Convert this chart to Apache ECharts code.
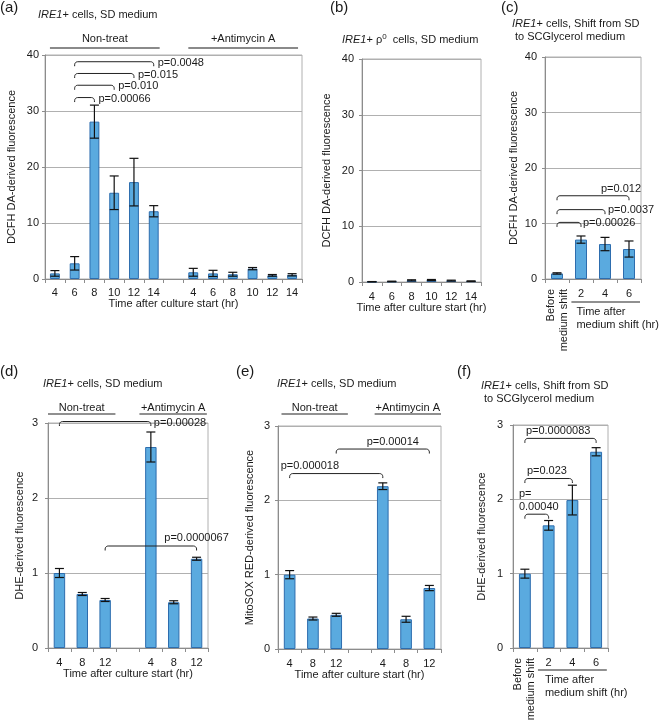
<!DOCTYPE html>
<html><head><meta charset="utf-8">
<script src="https://cdn.jsdelivr.net/npm/echarts@6/dist/echarts.min.js"></script>
<style>html,body{margin:0;padding:0;background:#fff}#c{width:660px;height:722px}</style>
</head><body><div id="c"></div>
<script>
// ---------------- data ----------------
const dcfhTicks = [0, 10, 20, 30, 40];
const dheTicks = [0, 1, 2, 3];

const aCats = ['4','6','8','10','12','14','','4','6','8','10','12','14'];
const aVals = [1.0, 2.8, 28.1, 15.4, 17.3, 12.1, null, 1.2, 1.0, 0.85, 1.85, 0.65, 0.75];
const aErrs = [0.5, 1.2, 2.95, 3.0, 4.25, 1.0, null, 0.7, 0.55, 0.35, 0.2, 0.15, 0.2];
const aBrackets = [[1, 2, 32.4, 'p=0.00066'], [1, 3, 34.6, 'p=0.010'], [1, 4, 36.7, 'p=0.015'], [1, 5, 38.8, 'p=0.0048']];
const aGroups = [['Non-treat', 0, 5], ['+Antimycin A', 7, 12]];

const bCats = ['4','6','8','10','12','14'];
const bVals = [0.05, 0.1, 0.3, 0.35, 0.25, 0.15];
const bErrs = [0.03, 0.05, 0.1, 0.1, 0.08, 0.05];

const cCats = ['Before\nmedium shift', '2', '4', '6'];
const cVals = [1.0, 7.1, 6.3, 5.4];
const cErrs = [0.12, 0.65, 1.2, 1.45];
const cBrackets = [[0, 1, 10.2, 'p=0.00026'], [0, 2, 12.5, 'p=0.0037'], [0, 3, 15.0, 'p=0.012']];

const dCats = ['4','8','12','','4','8','12'];
const dVals = [1.0, 0.72, 0.64, null, 2.68, 0.61, 1.19];
const dErrs = [0.06, 0.02, 0.02, null, 0.2, 0.02, 0.02];
const dBrackets = [[0, 4, 3.02, 'p=0.00028'], [2, 6, 1.36, 'p=0.0000067']];
const dGroups = [['Non-treat', 0, 2], ['+Antimycin A', 4, 6]];

const eCats = ['4','8','12','','4','8','12'];
const eVals = [1.0, 0.41, 0.46, null, 2.19, 0.40, 0.82];
const eErrs = [0.055, 0.02, 0.02, null, 0.045, 0.04, 0.035];
const eBrackets = [[0, 4, 2.36, 'p=0.000018'], [2, 6, 2.69, 'p=0.00014']];
const eGroups = [['Non-treat', 0, 2], ['+Antimycin A', 4, 6]];

const fCats = ['Before\nmedium shift', '2', '4', '6'];
const fVals = [1.0, 1.65, 1.99, 2.64];
const fErrs = [0.06, 0.065, 0.2, 0.055];
const fBrackets = [[0, 1, 1.80, 'p=\n0.00040'], [0, 2, 2.28, 'p=0.023'], [0, 3, 2.82, 'p=0.0000083']];

const cultureName = 'Time after culture start (hr)';
const shiftName = 'Time after\nmedium shift (hr)';
const dcfhName = 'DCFH DA-derived fluorescence';
const dheName = 'DHE-derived fluorescence';
const mitoName = 'MitoSOX RED-derived fluorescence';

// ---------------- style / layout ----------------
const FONT = '"Liberation Sans", Arial, Helvetica, sans-serif';
const TXT = '#1a1a1a';
const BAR_FILL = '#5AAADF', BAR_EDGE = '#2D6DAE';
const AXIS = '#8c8c8c', GRIDC = '#b0b0b0';

const grpA = {padL: 0.25, padR: 0.3, lineDy: -7, textDy: -16, color: '#8a8a8a', width: 2};
const grpD = {padL: 0.5, padR: 0.45, lineDy: -9, textDy: -15.5, color: '#222', width: 1.2};
const grpE = {padL: 0.35, padR: 0.5, lineDy: -12, textDy: -18, color: '#222', width: 1.2};

const panels = [
  {grid: {left: 45, top: 55, width: 257, height: 224}, cats: aCats, vals: aVals, errs: aErrs, ticks: dcfhTicks,
   yName: dcfhName, yNameGap: 28, yLabelMargin: 6, xName: cultureName, xNameGap: 19, xLabelMargin: 8,
   brackets: aBrackets, bLab: [{at: 'end', dx: 4, dy: 1, align: 'left'}, {at: 'end', dx: 4, dy: 1, align: 'left'}, {at: 'end', dx: 4, dy: 1, align: 'left'}, {at: 'end', dx: 4, dy: 1, align: 'left'}],
   groups: aGroups, grp: grpA},
  {grid: {left: 362, top: 59, width: 119, height: 223}, cats: bCats, vals: bVals, errs: bErrs, ticks: dcfhTicks,
   yName: dcfhName, yNameGap: 30, yLabelMargin: 8, xName: cultureName, xNameGap: 16.5, xLabelMargin: 9},
  {grid: {left: 545, top: 57, width: 96, height: 222}, cats: cCats, vals: cVals, errs: cErrs, ticks: dcfhTicks,
   yName: dcfhName, yNameGap: 26, yLabelMargin: 8, xLabelMargin: 9,
   brackets: cBrackets, bLab: [{at: 'end', dx: 2, dy: 0.5, align: 'left'}, {at: 'end', dx: 3, dy: 0, align: 'left'}, {at: 'end', dx: 12, dy: -7, align: 'right'}],
   shift: {name: shiftName, rotDy: 10, lineDy: 23, from: 0.6, to: 3.46, textDx: 5, textTop: 26}},
  {grid: {left: 48, top: 423, width: 160, height: 225}, cats: dCats, vals: dVals, errs: dErrs, ticks: dheTicks,
   yName: dheName, yNameGap: 22.5, yLabelMargin: 10, xName: cultureName, xNameGap: 19.5, xLabelMargin: 9,
   brackets: dBrackets, bLab: [{at: 'end', dx: 3, dy: 1, align: 'left'}, {at: 'end', dx: 0, dy: -8, align: 'center'}],
   groups: dGroups, grp: grpD},
  {grid: {left: 278, top: 426, width: 163, height: 223}, cats: eCats, vals: eVals, errs: eErrs, ticks: dheTicks,
   yName: mitoName, yNameGap: 22.5, yLabelMargin: 8, xName: cultureName, xNameGap: 18.5, xLabelMargin: 9,
   brackets: eBrackets, bLab: [{at: 'start', dx: -9, dy: -8, align: 'left'}, {at: 'mid', dx: 10, dy: -7, align: 'center'}],
   groups: eGroups, grp: grpE},
  {grid: {left: 513, top: 425, width: 95, height: 223}, cats: fCats, vals: fVals, errs: fErrs, ticks: dheTicks,
   yName: dheName, yNameGap: 25.5, yLabelMargin: 10, xLabelMargin: 9,
   brackets: fBrackets, bLab: [{at: 'start', dx: -6, dy: -13.5, align: 'left'}, {at: 'start', dx: 2, dy: -8, align: 'left'}, {at: 'start', dx: 1, dy: -7, align: 'left'}],
   shift: {name: shiftName, rotDy: 10, lineDy: 22, from: 0.55, to: 3.45, textDx: 7, textTop: 25}}
];

function textEl(x, y, text, align, valign, extra) {
  return Object.assign({
    type: 'text', x: x, y: y,
    style: {text: text, font: '11px ' + FONT, fill: TXT, align: align, verticalAlign: valign,
            textAlign: align, textVerticalAlign: valign, lineHeight: 13}
  }, extra || {});
}

function errSeries(idx, L) {
  const data = [];
  L.vals.forEach((v, i) => { if (v != null) data.push([i, v, L.errs[i]]); });
  return {
    type: 'custom', xAxisIndex: idx, yAxisIndex: idx, z: 5, clip: false, silent: true, data: data,
    renderItem(params, api) {
      const x = api.value(0), v = api.value(1), e = api.value(2);
      const t = api.coord([x, v + e]), b = api.coord([x, v - e]);
      const w = 4.5, st = {stroke: '#111', lineWidth: 1.2};
      return {type: 'group', children: [
        {type: 'line', shape: {x1: t[0], y1: t[1], x2: b[0], y2: b[1]}, style: st},
        {type: 'line', shape: {x1: t[0] - w, y1: t[1], x2: t[0] + w, y2: t[1]}, style: st},
        {type: 'line', shape: {x1: b[0] - w, y1: b[1], x2: b[0] + w, y2: b[1]}, style: st}
      ]};
    }
  };
}

function bracketPts(x1, x2, y, h, r) {
  const pts = [[x1, y + h]], n = 5;
  for (let k = 0; k <= n; k++) { const t = Math.PI + (Math.PI / 2) * k / n; pts.push([x1 + r + r * Math.cos(t), y + r + r * Math.sin(t)]); }
  for (let k = 0; k <= n; k++) { const t = 1.5 * Math.PI + (Math.PI / 2) * k / n; pts.push([x2 - r + r * Math.cos(t), y + r + r * Math.sin(t)]); }
  pts.push([x2, y + h]);
  return pts;
}

function bracketSeries(idx, L) {
  return {
    type: 'custom', xAxisIndex: idx, yAxisIndex: idx, z: 6, clip: false, silent: true,
    data: L.brackets.map(b => [b[0], b[2], b[1]]),
    renderItem(params, api) {
      const b = L.brackets[params.dataIndex];
      const spec = L.bLab[params.dataIndex];
      const p1 = api.coord([b[0], b[2]]), p2 = api.coord([b[1], b[2]]);
      const y = p1[1];
      const ax = spec.at === 'start' ? p1[0] : spec.at === 'end' ? p2[0] : (p1[0] + p2[0]) / 2;
      return {type: 'group', children: [
        {type: 'polyline', shape: {points: bracketPts(p1[0], p2[0], y, 4.5, 3)}, style: {stroke: '#222', lineWidth: 1, fill: null}},
        textEl(ax + spec.dx, y + spec.dy, b[3], spec.align, 'middle')
      ]};
    }
  };
}

function extrasSeries(idx, L) {
  return {
    type: 'custom', xAxisIndex: idx, yAxisIndex: idx, z: 6, clip: false, silent: true,
    data: [[0, 0]],
    renderItem(params, api) {
      const c0 = api.coord([0, 0]), c1 = api.coord([1, 0]);
      const slot = c1[0] - c0[0];
      const X = f => c0[0] + f * slot;
      const axisY = c0[1];
      const topY = api.coord([0, L.ticks[L.ticks.length - 1]])[1];
      const kids = [];
      if (L.groups) {
        const g = L.grp;
        L.groups.forEach(gr => {
          const xa = X(gr[1] - g.padL), xb = X(gr[2] + g.padR);
          kids.push({type: 'line', shape: {x1: xa, y1: topY + g.lineDy, x2: xb, y2: topY + g.lineDy}, style: {stroke: g.color, lineWidth: g.width}});
          kids.push(textEl((xa + xb) / 2, topY + g.textDy, gr[0], 'center', 'middle'));
        });
      }
      if (L.shift) {
        const s = L.shift;
        kids.push(textEl(X(0), axisY + s.rotDy, L.cats[0], 'right', 'middle', {rotation: Math.PI / 2}));
        kids.push({type: 'line', shape: {x1: X(s.from), y1: axisY + s.lineDy, x2: X(s.to), y2: axisY + s.lineDy}, style: {stroke: '#222', lineWidth: 1.2}});
        const t = textEl(X(s.from) + s.textDx, axisY + s.textTop, s.name, 'left', 'top');
        t.style.lineHeight = 13.5;
        kids.push(t);
      }
      return {type: 'group', children: kids};
    }
  };
}

const grids = [], xAxes = [], yAxes = [], series = [];
panels.forEach((L, idx) => {
  grids.push(Object.assign({show: true, borderColor: GRIDC, borderWidth: 1, backgroundColor: 'transparent', containLabel: false}, L.grid));
  xAxes.push({
    type: 'category', gridIndex: idx, data: L.cats,
    name: L.xName || '', nameLocation: 'middle', nameGap: L.xNameGap || 0,
    nameTextStyle: {fontSize: 11, fontFamily: FONT, color: TXT},
    axisLine: {lineStyle: {color: AXIS, width: 1}},
    axisTick: {show: true, length: 4, lineStyle: {color: AXIS}},
    axisLabel: {interval: 0, fontSize: 11, fontFamily: FONT, color: TXT, margin: L.xLabelMargin,
      formatter: (v, i) => (L.shift && i === 0) ? '' : v},
    splitLine: {show: false}
  });
  const tk = L.ticks;
  yAxes.push({
    type: 'value', gridIndex: idx, min: tk[0], max: tk[tk.length - 1], interval: tk[1] - tk[0],
    name: L.yName, nameLocation: 'middle', nameGap: L.yNameGap,
    nameTextStyle: {fontSize: 11, fontFamily: FONT, color: TXT},
    axisLine: {show: true, lineStyle: {color: AXIS, width: 1}},
    axisTick: {show: true, length: 3, lineStyle: {color: AXIS}},
    axisLabel: {fontSize: 11, fontFamily: FONT, color: TXT, margin: L.yLabelMargin},
    splitLine: {show: true, lineStyle: {color: GRIDC, width: 1}}
  });
  series.push({type: 'bar', xAxisIndex: idx, yAxisIndex: idx, data: L.vals.map(v => v == null ? '-' : v),
    barWidth: '50%', silent: true, z: 2,
    itemStyle: {color: BAR_FILL, borderColor: BAR_EDGE, borderWidth: 1}});
  series.push(errSeries(idx, L));
  if (L.brackets) series.push(bracketSeries(idx, L));
  series.push(extrasSeries(idx, L));
});

const tStyle = {fontSize: 11, fontFamily: FONT, color: TXT, fontWeight: 'normal', lineHeight: 13,
  rich: {
    i: {fontStyle: 'italic', fontSize: 11, fontFamily: FONT, color: TXT, lineHeight: 13},
    s: {fontSize: 8, fontFamily: FONT, color: TXT, verticalAlign: 'top', lineHeight: 8}
  }};
const bigStyle = {fontSize: 15, fontFamily: FONT, color: TXT, fontWeight: 'normal'};
const T = (text, left, top) => ({text: text, left: left, top: top, padding: 0, textStyle: tStyle});
const B = (text, left, top) => ({text: text, left: left, top: top, padding: 0, textStyle: bigStyle});

const titles = [
  B('(a)', 0, 0), T('{i|IRE1}+ cells, SD medium', 38, 8),
  B('(b)', 330, 0), T('{i|IRE1}+ ρ{s|0}  cells, SD medium', 342, 33),
  B('(c)', 501, 0), T('{i|IRE1}+ cells, Shift from SD\n to SCGlycerol medium', 512, 17),
  B('(d)', 0, 364), T('{i|IRE1}+ cells, SD medium', 43, 377),
  B('(e)', 236, 364), T('{i|IRE1}+ cells, SD medium', 277, 377),
  B('(f)', 457, 364), T('{i|IRE1}+ cells, Shift from SD\n to SCGlycerol medium', 481, 379)
];

const chart = echarts.init(document.getElementById('c'), null, {renderer: 'canvas'});
chart.setOption({
  animation: false,
  backgroundColor: '#ffffff',
  title: titles,
  grid: grids, xAxis: xAxes, yAxis: yAxes, series: series
});
</script></body></html>
